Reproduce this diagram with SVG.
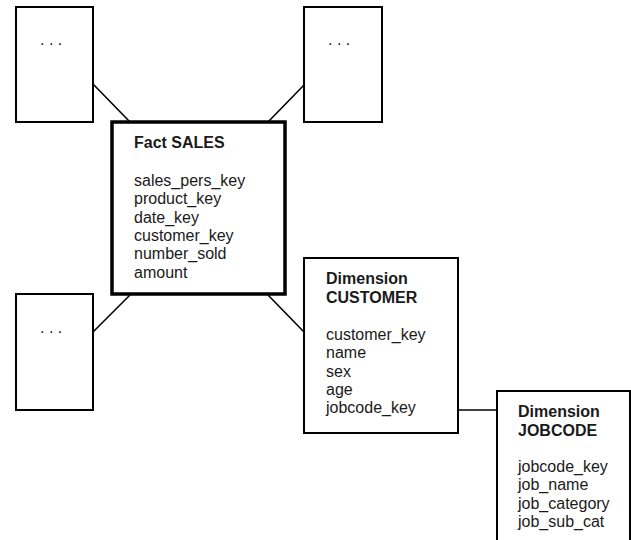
<svg xmlns="http://www.w3.org/2000/svg" width="631" height="540" viewBox="0 0 631 540">
<style>
.box{fill:#fff;stroke:#000;stroke-width:2}
.fact{fill:#fff;stroke:#000;stroke-width:3.5}
.conn line{stroke:#000;stroke-width:1.6}
text{font-family:"Liberation Sans",Arial,sans-serif;font-size:16px;fill:#1a1a1a}
.b{font-weight:bold}
</style>
<rect width="631" height="540" fill="#fff"/>
<g id="connectors" class="conn">
<line x1="93" y1="84" x2="130" y2="122"/>
<line x1="268" y1="122" x2="304" y2="85"/>
<line x1="130" y1="295" x2="93" y2="332"/>
<line x1="268" y1="295" x2="304" y2="332"/>
<line x1="458" y1="410" x2="497" y2="410"/>
</g>
<g id="dim-top-left">
<rect class="box" x="16" y="7" width="77" height="115"/>
<text x="40" y="45">. . .</text>
</g>
<g id="dim-top-right">
<rect class="box" x="304" y="7" width="78" height="115"/>
<text x="328" y="45">. . .</text>
</g>
<g id="dim-bottom-left">
<rect class="box" x="16" y="294" width="77" height="116"/>
<text x="40" y="333">. . .</text>
</g>
<g id="fact-sales">
<rect class="fact" x="112" y="122" width="173" height="172"/>
<text class="b" x="134" y="147.5">Fact SALES</text>
<text x="134" y="186">sales_pers_key</text>
<text x="134" y="204.3">product_key</text>
<text x="134" y="222.6">date_key</text>
<text x="134" y="240.9">customer_key</text>
<text x="134" y="259.2">number_sold</text>
<text x="134" y="277.5">amount</text>
</g>
<g id="dim-customer">
<rect class="box" x="304" y="258" width="154" height="175"/>
<text class="b" x="326" y="283.5">Dimension</text>
<text class="b" x="326" y="302.5">CUSTOMER</text>
<text x="326" y="340">customer_key</text>
<text x="326" y="358.3">name</text>
<text x="326" y="376.6">sex</text>
<text x="326" y="394.9">age</text>
<text x="326" y="413.2">jobcode_key</text>
</g>
<g id="dim-jobcode">
<rect class="box" x="497" y="391" width="133" height="170"/>
<text class="b" x="518" y="416.5">Dimension</text>
<text class="b" x="518" y="435.5">JOBCODE</text>
<text x="518" y="472">jobcode_key</text>
<text x="518" y="490.3">job_name</text>
<text x="518" y="508.6">job_category</text>
<text x="518" y="526.9">job_sub_cat</text>
</g>
</svg>
